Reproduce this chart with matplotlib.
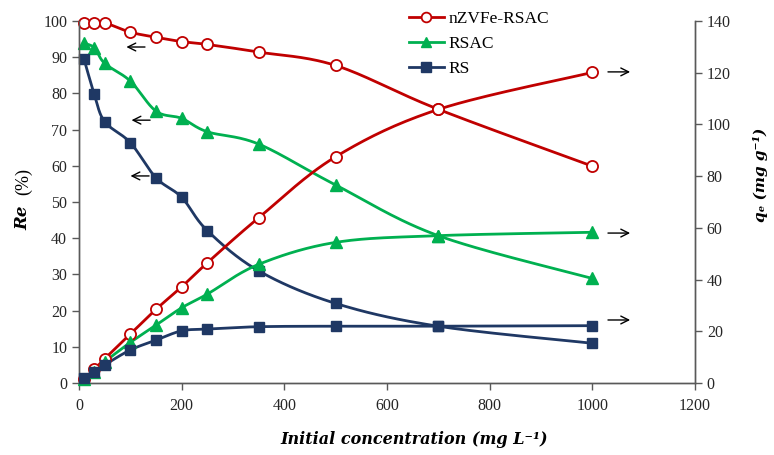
import numpy as np
import matplotlib
matplotlib.use("Agg")
from matplotlib import pyplot as plt

conc = [10, 30, 50, 100, 150, 200, 250, 350, 500, 700, 1000]

# removal efficiency (%)
re_nzvfe = [99.5, 99.5, 99.5, 96.9, 95.5, 94.3, 93.5, 91.4, 87.7, 75.6, 59.9]
re_rsac = [93.8, 92.6, 88.3, 83.4, 75.1, 73.1, 69.4, 66.0, 54.7, 40.7, 28.9]
re_rs = [89.4, 79.7, 72.2, 66.4, 56.7, 51.3, 42.1, 31.0, 22.0, 15.7, 11.0]

# adsorption capacity (mg/g)
qe_nzvfe = [1.4, 5.4, 9.4, 18.9, 28.5, 37.2, 46.5, 63.9, 87.5, 105.8, 120.1]
qe_rsac = [1.6, 4.4, 8.2, 15.7, 22.4, 29.1, 34.4, 45.9, 54.4, 57.0, 58.3]
qe_rs = [1.8, 4.3, 7.0, 12.8, 16.6, 20.2, 20.9, 21.8, 22.0, 22.0, 22.2]

red = "#C00000"
green = "#00B050"
navy = "#1F3864"
serif = "Liberation Serif"


def smooth(x, y, xr, yr, n=30):
    # Catmull-Rom style smoothing (like Excel "smoothed line"), done in axis fractions
    px = np.asarray(x, float) / xr
    py = np.asarray(y, float) / yr
    P = np.column_stack([px, py])
    out = [P[0]]
    for i in range(len(P) - 1):
        p0 = P[i - 1] if i > 0 else P[i]
        p1, p2 = P[i], P[i + 1]
        p3 = P[i + 2] if i + 2 < len(P) else P[i + 1]
        c1 = p1 + (p2 - p0) / 6
        c2 = p2 - (p3 - p1) / 6
        t = np.linspace(0, 1, n)[1:, None]
        seg = (1 - t) ** 3 * p1 + 3 * (1 - t) ** 2 * t * c1 + 3 * (1 - t) * t ** 2 * c2 + t ** 3 * p2
        out.extend(seg)
    out = np.array(out)
    return out[:, 0] * xr, out[:, 1] * yr


fig = plt.figure(figsize=(7.74, 4.55), dpi=100)
ax = fig.add_axes([0.102, 0.158, 0.796, 0.796])
ax2 = ax.twinx()

series = [
    (re_nzvfe, qe_nzvfe, red, "o", "nZVFe-RSAC", dict(mfc="white", mec=red, ms=8, mew=1.3)),
    (re_rsac, qe_rsac, green, "^", "RSAC", dict(mfc=green, mec=green, ms=8)),
    (re_rs, qe_rs, navy, "s", "RS", dict(mfc=navy, mec=navy, ms=7.5)),
]

handles = []
for re_vals, qe_vals, col, mk, name, mstyle in series:
    sx, sy = smooth(conc, re_vals, 1200, 100)
    ax.plot(sx, sy, color=col, lw=2, zorder=2, clip_on=False)
    ax.plot(conc, re_vals, ls="none", marker=mk, zorder=3, clip_on=False, **mstyle)
    sx, sy = smooth(conc, qe_vals, 1200, 140)
    ax2.plot(sx, sy, color=col, lw=2, zorder=2, clip_on=False)
    ax2.plot(conc, qe_vals, ls="none", marker=mk, zorder=3, clip_on=False, **mstyle)
    h, = ax2.plot([], [], color=col, lw=2, marker=mk, label=name,
                  **{**mstyle, "ms": mstyle["ms"] - 1})
    handles.append(h)

ax.set_xlim(0, 1200)
ax.set_ylim(0, 100)
ax2.set_ylim(0, 140)
ax.set_xticks(range(0, 1201, 200))
ax.set_yticks(range(0, 101, 10))
ax2.set_yticks(range(0, 141, 20))

for a in (ax, ax2):
    a.spines["top"].set_visible(False)
    for s in a.spines.values():
        s.set_color("#595959")
        s.set_linewidth(1)
    a.tick_params(colors="#595959", labelcolor="#262626", length=5, width=1, labelsize=11.5)
    for lab in a.get_xticklabels() + a.get_yticklabels():
        lab.set_fontfamily(serif)
ax.tick_params(axis="x", pad=6)

fig.text(0.535, 0.033, "Initial concentration (mg L⁻¹)", ha="center", va="center",
         fontfamily="DejaVu Serif", fontweight="bold", fontstyle="italic", fontsize=11.5)
fig.text(0.03, 0.522, "Re", rotation=90, ha="center", va="center",
         fontfamily="DejaVu Serif", fontweight="bold", fontstyle="italic", fontsize=12)
fig.text(0.03, 0.602, "(%)", rotation=90, ha="center", va="center",
         fontfamily=serif, fontsize=13)
fig.text(0.982, 0.615, "qₑ (mg g⁻¹)", rotation=90, ha="center", va="center",
         fontfamily="DejaVu Serif", fontweight="bold", fontstyle="italic", fontsize=11)

# arrows pointing to the relevant axis
arrow = dict(arrowstyle="->", color="black", lw=1, mutation_scale=14)
for y, x0 in [(92.8, 134), (72.6, 144), (57.2, 142)]:
    ax.annotate("", xy=(x0 - 47, y), xytext=(x0, y), arrowprops=arrow)
for y in [120.3, 58.0, 24.4]:
    ax2.annotate("", xy=(1079, y), xytext=(1025, y), arrowprops=arrow)

leg = ax2.legend(handles=handles, loc="upper left", bbox_to_anchor=(0.51, 1.07),
                 frameon=False, prop={"family": serif, "size": 12.5},
                 handlelength=2.0, handletextpad=0.3, labelspacing=0.5)

fig.savefig("out.png", dpi=100)
